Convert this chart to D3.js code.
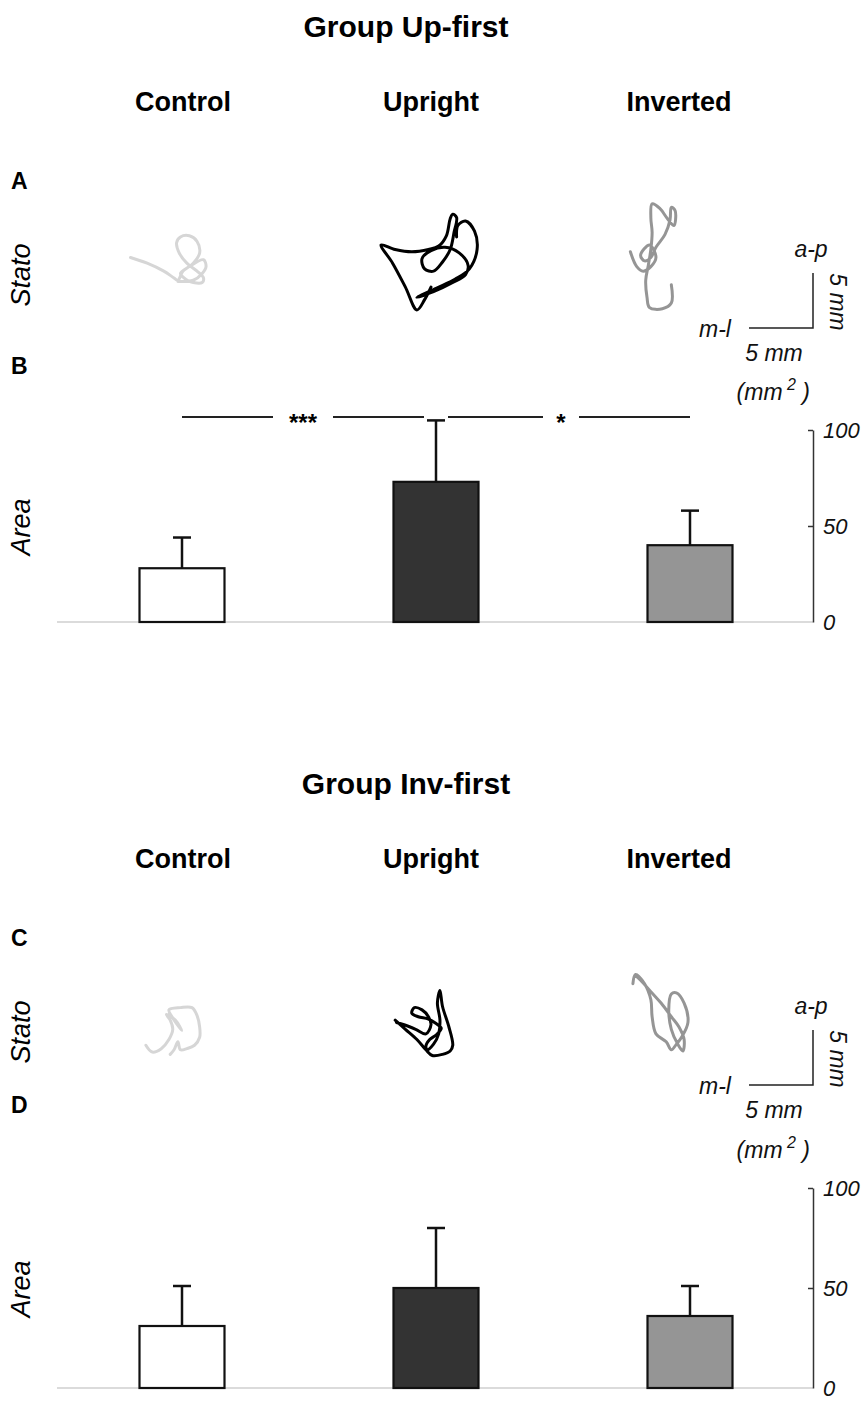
<!DOCTYPE html>
<html>
<head>
<meta charset="utf-8">
<script src="https://cdn.jsdelivr.net/npm/d3@7"></script>
<style>
  body { margin: 0; background: #fff; }
  svg { display: block; font-family: 'Liberation Sans', Arial, sans-serif; }
</style>
</head>
<body>
<div id="chart"></div>
<script>
const conditions = ['Control', 'Upright', 'Inverted'];
const groupTitles = ['Group Up-first', 'Group Inv-first'];
const panelLetters = [['A', 'B'], ['C', 'D']];
const areaTicks = [0, 50, 100];

// mean sway area (mm2) and SD, one entry per condition
const areaMeanUpFirst = [28, 73, 40];
const areaSdUpFirst = [16, 32, 18];
const areaMeanInvFirst = [31, 50, 36];
const areaSdInvFirst = [20, 30, 15];

const sigUpFirst = [
  { from: 'Control', to: 'Upright', label: '***' },
  { from: 'Upright', to: 'Inverted', label: '*' },
];
const sigInvFirst = [];

const scaleBarMm = 5;

// statokinesigrams, [m-l, a-p] in mm, relative to the column centre
const statoUpFirstControl = [
  [-4.1, 1.1], [-2.8, 0.6], [-1.5, -0.1], [-0.7, -0.7], [-0.4, -0.9], [0.0, -0.1],
  [0.8, 0.6], [1.3, 1.5], [1.1, 2.5], [0.5, 3.0], [-0.2, 2.9], [-0.5, 2.4],
  [-0.3, 1.5], [0.3, 0.6], [1.1, -0.1], [1.6, -0.7], [1.5, -1.1], [0.8, -1.1],
  [0.2, -0.8], [-0.2, -0.3], [0.5, 0.3], [1.6, 0.9], [1.8, 0.3], [1.5, -0.3],
  [0.8, -0.9], [-0.4, -1.0],
];
const statoUpFirstUpright = [
  [0.0, -1.5], [-0.5, -2.6], [-1.1, -3.5], [-2.0, -1.5], [-3.0, 0.6], [-3.9, 2.2],
  [-2.8, 1.8], [-1.5, 1.6], [-0.2, 1.8], [0.6, 2.1], [1.2, 3.0], [1.5, 4.5],
  [1.7, 4.9], [2.0, 4.6], [1.8, 3.3], [1.5, 1.8], [0.9, 0.7], [0.2, -0.1],
  [-0.5, 0.1], [-0.7, 1.0], [0.0, 1.7], [1.1, 2.0], [2.2, 1.5], [2.9, 0.4],
  [2.7, -0.4], [1.7, -1.1], [0.2, -1.9], [-1.1, -2.4], [0.4, -1.6], [1.9, -0.8],
  [3.0, 0.1], [3.6, 1.8], [3.4, 3.4], [2.7, 4.3], [2.1, 3.9], [2.0, 2.9],
];
const statoUpFirstInverted = [
  [-0.6, -1.3], [-0.6, -2.9], [-1.3, -3.4], [-2.3, -3.3], [-2.5, -2.4], [-2.6, -0.9],
  [-2.4, 0.4], [-2.2, 1.8], [-2.1, 3.3], [-2.2, 4.6], [-2.1, 5.8], [-1.5, 5.4],
  [-0.9, 4.5], [-0.4, 3.9], [-0.3, 5.2], [-0.6, 5.5], [-0.7, 4.4], [-1.1, 3.1],
  [-1.8, 2.0], [-2.2, 1.1], [-2.7, 0.8], [-3.0, 1.3], [-2.3, 2.2], [-1.8, 1.1],
  [-2.2, 0.3], [-2.8, -0.1], [-3.3, 0.3], [-3.8, 1.6],
];
const statoInvFirstControl = [
  [-2.9, -1.6], [-2.4, -2.2], [-1.7, -1.9], [-1.1, -1.1], [-0.8, -0.2], [-1.0, 0.6],
  [-1.3, 1.1], [-0.6, 0.6], [-0.1, -0.3], [-0.8, 0.8], [-1.1, 1.5], [-0.2, 1.7],
  [0.7, 1.7], [1.1, 1.0], [1.3, 0.0], [1.3, -0.9], [0.9, -1.6], [0.3, -1.9],
  [-0.2, -2.0], [-0.4, -1.3], [-0.7, -2.0], [-1.0, -2.4],
];
const statoInvFirstUpright = [
  [-2.8, 0.6], [-2.0, -0.2], [-1.1, -1.1], [-0.4, -2.0], [0.1, -2.5], [0.9, -2.4],
  [1.5, -2.1], [1.7, -1.6], [1.4, 0.0], [0.9, 1.8], [0.7, 3.2], [0.5, 2.1],
  [0.7, 0.6], [0.6, -0.6], [0.2, -1.5], [-0.3, -2.0], [-0.4, -1.7], [-0.1, -1.1],
  [0.4, -0.7], [0.8, -0.1], [0.4, 0.3], [-0.2, 0.7], [-1.0, 0.9], [-1.5, 1.2],
  [-1.3, 1.7], [-0.7, 1.5], [-0.2, 0.9], [0.0, 0.2], [-0.4, -0.6], [-1.2, -0.2],
  [-2.1, 0.2], [-2.7, 0.4],
];
const statoInvFirstInverted = [
  [-3.6, 3.8], [-3.4, 4.6], [-2.7, 3.8], [-2.2, 2.4], [-2.1, 0.9], [-1.8, -0.6],
  [-1.0, -1.3], [-0.6, -2.0], [-0.2, -1.5], [0.2, -0.9], [0.7, 0.4], [0.4, 2.1],
  [-0.2, 3.0], [-0.6, 2.9], [-0.8, 1.5], [-0.6, -0.2], [-0.1, -1.5], [0.3, -2.1],
  [0.4, -1.1], [0.0, 0.0], [-0.6, 0.9], [-1.4, 2.1], [-2.2, 3.1], [-3.0, 4.1],
  [-3.4, 4.5],
];

const groups = [
  {
    title: groupTitles[0], letters: panelLetters[0], mean: areaMeanUpFirst, sd: areaSdUpFirst,
    sig: sigUpFirst, traces: [statoUpFirstControl, statoUpFirstUpright, statoUpFirstInverted],
    barRange: [622, 430], letterY: 374,
  },
  {
    title: groupTitles[1], letters: panelLetters[1], mean: areaMeanInvFirst, sd: areaSdInvFirst,
    sig: sigInvFirst, traces: [statoInvFirstControl, statoInvFirstUpright, statoInvFirstInverted],
    barRange: [631, 431], letterY: 356,
  },
];

const width = 865;
const height = 1404;
const groupOffset = 757;
const traceColors = ['#d6d6d6', '#000000', '#959595'];
const barColors = ['#ffffff', '#333333', '#959595'];
const fontFamily = "'Liberation Sans', Arial, sans-serif";

const svg = d3.select('#chart').append('svg')
  .attr('width', width)
  .attr('height', height);

// column centres for headers / traces, and bar centres
const colX = d3.scalePoint().domain(conditions).range([183, 679]);
const barX = d3.scalePoint().domain(conditions).range([182, 690]);
const barWidth = 85;
const axisX = 813;

groups.forEach((g, gi) => {
  const oy = gi * groupOffset;
  const root = svg.append('g').attr('transform', `translate(0,${oy})`);

  root.append('text')
    .attr('x', 406).attr('y', 37)
    .attr('text-anchor', 'middle')
    .style('font-weight', 'bold').style('font-size', '30px')
    .text(g.title);

  root.selectAll('.col')
    .data(conditions)
    .enter().append('text')
    .attr('x', (d) => colX(d)).attr('y', 111)
    .attr('text-anchor', 'middle')
    .style('font-weight', 'bold').style('font-size', '27px')
    .text((d) => d);

  // panel letters
  root.append('text').attr('x', 11).attr('y', 189)
    .style('font-weight', 'bold').style('font-size', '23px').text(g.letters[0]);
  root.append('text').attr('x', 11).attr('y', g.letterY)
    .style('font-weight', 'bold').style('font-size', '23px').text(g.letters[1]);

  // ---- bar chart scale
  const y = d3.scaleLinear().domain([0, 100]).range(g.barRange);

  // row labels
  root.append('text')
    .attr('transform', 'translate(30,275) rotate(-90)')
    .attr('text-anchor', 'middle')
    .style('font-style', 'italic').style('font-size', '27px')
    .text('Stato');
  root.append('text')
    .attr('transform', `translate(30,${y(50) + 1}) rotate(-90)`)
    .attr('text-anchor', 'middle')
    .style('font-style', 'italic').style('font-size', '27px')
    .text('Area');

  // ---- statokinesigrams
  const pxPerMmX = 12.8;
  const pxPerMmY = 11.4;
  const rowY = 270;
  g.traces.forEach((pts, ci) => {
    const cx = colX(conditions[ci]);
    const sx = d3.scaleLinear().domain([0, 1]).range([cx, cx + pxPerMmX]);
    const sy = d3.scaleLinear().domain([0, 1]).range([rowY, rowY - pxPerMmY]);
    const line = d3.line()
      .x((d) => sx(d[0]))
      .y((d) => sy(d[1]))
      .curve(d3.curveCatmullRom.alpha(0.5));
    root.append('path')
      .datum(pts)
      .attr('d', line)
      .attr('fill', 'none')
      .attr('stroke', traceColors[ci])
      .attr('stroke-width', 3)
      .attr('stroke-linecap', 'round')
      .attr('stroke-linejoin', 'round');
  });

  // scale bar
  const corner = [axisX, 328];
  const mlScale = d3.scaleLinear().domain([0, scaleBarMm]).range([corner[0] - 64, corner[0]]);
  const apScale = d3.scaleLinear().domain([0, scaleBarMm]).range([corner[1], corner[1] - 55]);
  root.append('path')
    .attr('d', `M${mlScale(0)},${apScale(0)}H${mlScale(scaleBarMm)}V${apScale(scaleBarMm)}`)
    .attr('fill', 'none').attr('stroke', '#222').attr('stroke-width', 1.5);
  const it = (sel) => sel.style('font-style', 'italic').style('font-size', '23px').attr('fill', '#111');
  root.append('text').attr('x', 811).attr('y', 257).attr('text-anchor', 'middle').call(it).text('a-p');
  root.append('text').attr('x', 715).attr('y', 337).attr('text-anchor', 'middle').call(it).text('m-l');
  root.append('text').attr('x', 774).attr('y', 361).attr('text-anchor', 'middle').call(it).text(`${scaleBarMm} mm`);
  root.append('text')
    .attr('transform', 'translate(830,302) rotate(90)')
    .attr('text-anchor', 'middle').call(it).text(`${scaleBarMm} mm`);

  // ---- bar chart
  root.append('line')
    .attr('x1', 57).attr('x2', axisX)
    .attr('y1', y(0)).attr('y2', y(0))
    .attr('stroke', '#cfcfcf').attr('stroke-width', 1.5);

  const axis = d3.axisRight(y)
    .tickValues(areaTicks)
    .tickSizeInner(-5)
    .tickSizeOuter(0)
    .tickPadding(10);
  const ax = root.append('g')
    .attr('transform', `translate(${axisX},0)`)
    .call(axis);
  ax.select('.domain').attr('stroke', '#333').attr('stroke-width', 1.5);
  ax.selectAll('.tick line').attr('stroke', '#333').attr('stroke-width', 1.5)
    .filter((d) => d === 0).remove();
  ax.selectAll('.tick text')
    .style('font-family', fontFamily)
    .style('font-style', 'italic').style('font-size', '22px').attr('fill', '#111');

  const unit = root.append('text')
    .attr('x', 810).attr('y', y(100) - 30)
    .attr('text-anchor', 'end')
    .style('font-style', 'italic').style('font-size', '23px').attr('fill', '#111');
  unit.append('tspan').text('(mm');
  unit.append('tspan').attr('dy', -10).style('font-size', '16px').text(' 2');
  unit.append('tspan').attr('dy', 10).text(' )');

  const bars = root.selectAll('.bar')
    .data(conditions)
    .enter().append('g');
  bars.append('line')
    .attr('x1', (d) => barX(d)).attr('x2', (d) => barX(d))
    .attr('y1', (d, i) => y(g.mean[i])).attr('y2', (d, i) => y(g.mean[i] + g.sd[i]))
    .attr('stroke', '#111').attr('stroke-width', 2.5);
  bars.append('line')
    .attr('x1', (d) => barX(d) - 9).attr('x2', (d) => barX(d) + 9)
    .attr('y1', (d, i) => y(g.mean[i] + g.sd[i])).attr('y2', (d, i) => y(g.mean[i] + g.sd[i]))
    .attr('stroke', '#111').attr('stroke-width', 2.5);
  bars.append('rect')
    .attr('x', (d) => barX(d) - barWidth / 2)
    .attr('width', barWidth)
    .attr('y', (d, i) => y(g.mean[i]))
    .attr('height', (d, i) => y(0) - y(g.mean[i]))
    .attr('fill', (d, i) => barColors[i])
    .attr('stroke', '#111').attr('stroke-width', 2.2);

  // significance brackets
  const sigY = 417;
  g.sig.forEach((s) => {
    const x1 = s.from === 'Upright' ? barX(s.from) + 12 : barX(s.from);
    const x2 = s.to === 'Upright' ? barX(s.to) - 12 : barX(s.to);
    const mid = (x1 + x2) / 2 - (s.label.length === 1 ? 8 : 0);
    const half = s.label.length * 6 + 12;
    root.append('line').attr('x1', x1).attr('x2', mid - half).attr('y1', sigY).attr('y2', sigY)
      .attr('stroke', '#222').attr('stroke-width', 2);
    root.append('line').attr('x1', mid + half).attr('x2', x2).attr('y1', sigY).attr('y2', sigY)
      .attr('stroke', '#222').attr('stroke-width', 2);
    root.append('text').attr('x', mid).attr('y', sigY + 14)
      .attr('text-anchor', 'middle')
      .style('font-size', '24px').style('font-weight', 'bold')
      .text(s.label);
  });
});
</script>
</body>
</html>
